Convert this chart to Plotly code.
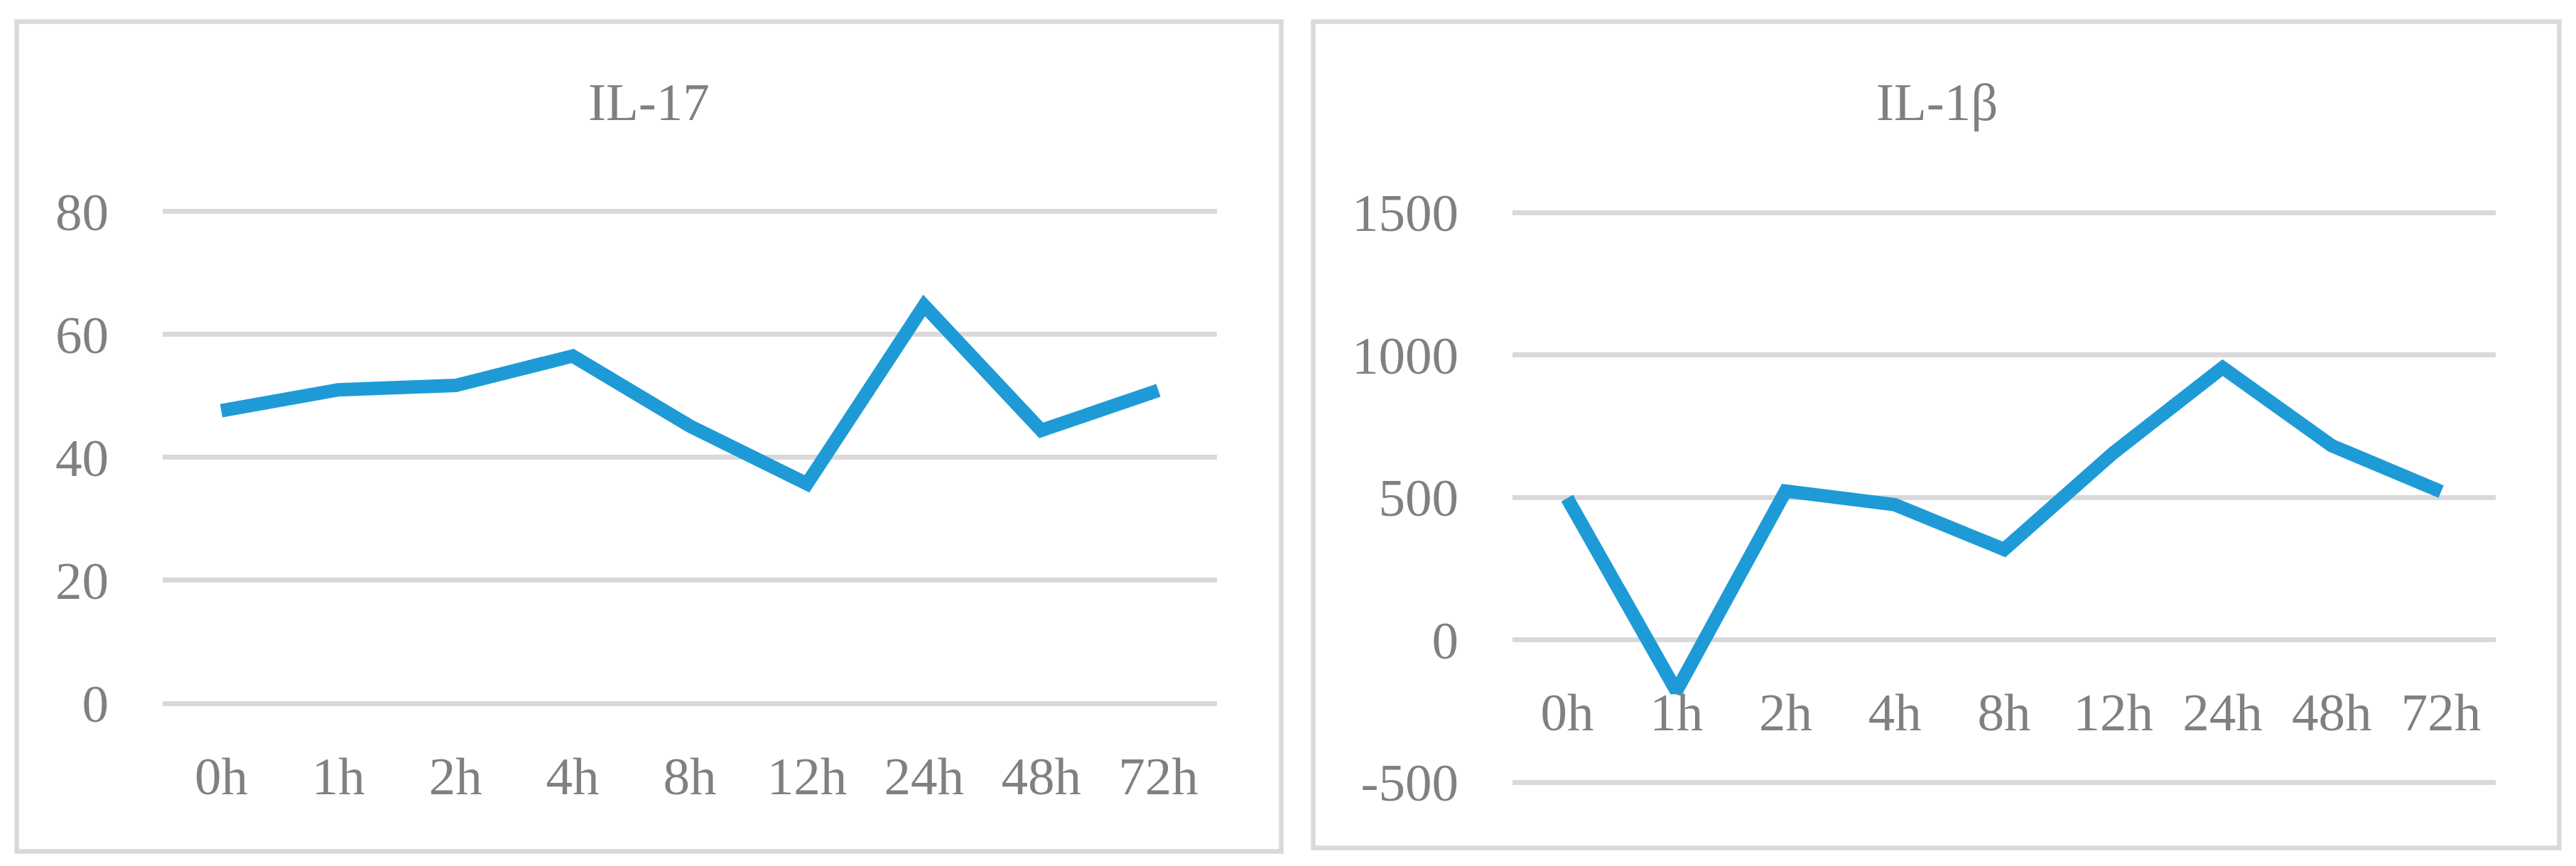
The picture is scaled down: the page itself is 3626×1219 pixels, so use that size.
import plotly.graph_objects as go

categories = ["0h", "1h", "2h", "4h", "8h", "12h", "24h", "48h", "72h"]
il17_values = [47.6, 51.0, 51.7, 56.5, 45.1, 35.7, 64.7, 44.4, 50.9]
il1b_values = [497, -180, 522, 474, 317, 656, 955, 681, 520]
il17_ticks = [0, 20, 40, 60, 80]
il17_ticktext = ["0", "20", "40", "60", "80"]
il1b_ticks = [-500, 0, 500, 1000, 1500]
il1b_ticktext = ["-500", "0", "500", "1000", "1500"]

W, H = 3626, 1219
LINE = "#1E9BD7"
GRID = "#D9D9D9"
TXT = "#808080"
FONT = "Liberation Serif"
FS = 75


def px(x):
    return x / W


def py(y):
    return 1 - y / H


def ydomain(vlo, vhi, ylo_px, yhi_px, rlo, rhi):
    k = (ylo_px - yhi_px) / (vhi - vlo)
    bottom = ylo_px + (vlo - rlo) * k
    top = yhi_px - (rhi - vhi) * k
    return [py(bottom), py(top)]


L_range = [-0.5, 80.5]
R_range = [-510, 1510]
L_dom = ydomain(0, 80, 990, 297.7, *L_range)
R_dom = ydomain(-500, 1500, 1101, 299, *R_range)
zero_y_right = 900.5

fig = go.Figure()
fig.add_trace(go.Scatter(x=categories, y=il17_values, mode="lines",
                         line=dict(color=LINE, width=19), xaxis="x", yaxis="y",
                         showlegend=False))
fig.add_trace(go.Scatter(x=categories, y=il1b_values, mode="lines",
                         line=dict(color=LINE, width=19), xaxis="x2", yaxis="y2",
                         showlegend=False))

axfont = dict(family=FONT, size=FS, color=TXT)
common_x = dict(type="category", range=[-0.5, 8.5], showgrid=False, showline=False,
                zeroline=False, ticks="", tickfont=axfont, automargin=False)
common_y = dict(showgrid=True, gridcolor=GRID, gridwidth=7,
                zeroline=True, zerolinecolor=GRID, zerolinewidth=7,
                showline=False, ticks="", tickfont=axfont, automargin=False,
                ticklabelstandoff=75)

fig.update_layout(
    width=W, height=H, margin=dict(l=0, r=0, t=0, b=0, pad=0),
    paper_bgcolor="white", plot_bgcolor="white",
    xaxis=dict(domain=[px(229), px(1713)], anchor="y", ticklabelstandoff=48, **common_x),
    yaxis=dict(domain=L_dom, range=L_range, tickvals=il17_ticks,
               ticktext=il17_ticktext, anchor="x", **common_y),
    xaxis2=dict(domain=[px(2129), px(3513)], anchor="free",
                position=py(zero_y_right), ticklabelstandoff=51, **common_x),
    yaxis2=dict(domain=R_dom, range=R_range, tickvals=il1b_ticks,
                ticktext=il1b_ticktext, anchor="x2", **common_y),
    shapes=[
        dict(type="rect", xref="paper", yref="paper", x0=px(23.5), x1=px(1803.5),
             y0=py(1198.5), y1=py(30.5), line=dict(color=GRID, width=6.5)),
        dict(type="rect", xref="paper", yref="paper", x0=px(1848.5), x1=px(3602.5),
             y0=py(1193.5), y1=py(30.5), line=dict(color=GRID, width=6.5)),
    ],
    annotations=[
        dict(text="IL-17", xref="paper", yref="paper", x=px(913), y=py(143),
             showarrow=False, xanchor="center", yanchor="middle",
             font=dict(family=FONT, size=FS, color=TXT)),
        dict(text="IL-1β", xref="paper", yref="paper", x=px(2726), y=py(143),
             showarrow=False, xanchor="center", yanchor="middle",
             font=dict(family=FONT, size=FS, color=TXT)),
    ],
)

fig.write_html("out.html", config={"displayModeBar": False},
               post_script="document.body.style.margin='0';document.body.style.padding='0';")
